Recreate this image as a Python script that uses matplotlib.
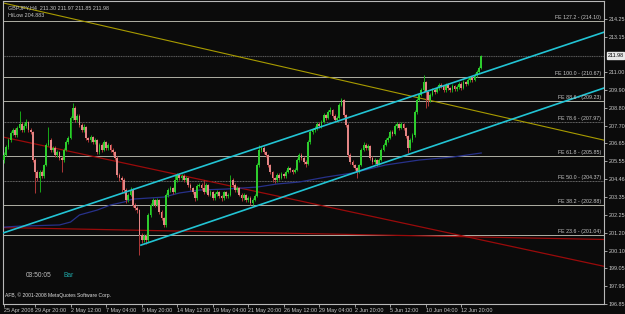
import matplotlib
matplotlib.use("Agg")
import matplotlib.pyplot as plt
import numpy as np

# ---------------- data (GBPJPY, H4) ----------------
first_open = 205.62
closes = [205.93, 206.41, 206.84, 207.27, 207.45, 207.15, 207.57, 207.82, 207.45, 207.69,
          207.94, 207.45, 207.33, 205.62, 204.89, 204.52, 204.89, 204.64, 205.32, 206.54,
          206.84, 206.23, 206.35, 205.93, 206.11, 205.74, 205.62, 206.23, 206.72, 206.96,
          208.18, 208.79, 208.06, 208.30, 207.76, 207.45, 207.63, 206.96, 206.84, 207.02,
          206.72, 206.84, 206.11, 206.54, 206.23, 206.72, 206.35, 206.54, 206.23, 206.11,
          205.74, 204.71, 204.52, 204.40, 203.79, 203.18, 203.49, 203.79, 202.88, 202.69,
          202.57, 201.04, 200.74, 200.98, 200.74, 202.27, 202.88, 203.18, 202.88, 203.18,
          202.45, 202.08, 201.66, 203.49, 203.79, 203.91, 203.67, 204.40, 204.71, 204.52,
          204.64, 204.40, 204.52, 204.10, 203.91, 203.67, 203.30, 204.03, 204.10, 203.91,
          203.67, 204.10, 203.49, 203.67, 203.30, 203.55, 203.67, 203.42, 203.30, 203.67,
          203.42, 203.49, 204.40, 204.10, 203.79, 203.91, 203.49, 203.30, 203.49, 203.18,
          203.30, 203.00, 203.18, 203.42, 205.32, 206.23, 206.35, 206.11, 205.93, 205.32,
          204.89, 204.52, 204.40, 204.71, 204.52, 204.77, 204.64, 204.89, 205.13, 205.01,
          204.89, 205.01, 205.62, 205.93, 205.74, 205.50, 205.38, 206.72, 207.33, 207.45,
          207.57, 207.82, 207.69, 207.94, 208.37, 208.18, 208.55, 208.67, 208.30, 208.06,
          208.18, 208.98, 209.28, 208.37, 207.76, 205.93, 205.50, 205.32, 205.13, 204.89,
          205.32, 206.23, 206.54, 206.35, 206.47, 205.74, 205.50, 205.62, 205.38, 205.62,
          206.23, 206.54, 206.84, 206.96, 207.33, 207.21, 207.69, 207.82, 207.57, 207.82,
          207.57, 207.08, 206.35, 206.84, 207.15, 208.55, 209.28, 209.59, 209.89, 210.38,
          209.77, 209.28, 209.59, 209.89, 209.77, 210.01, 210.20, 210.13, 209.89, 210.20,
          210.01, 209.89, 210.13, 209.95, 210.07, 210.26, 210.01, 210.38, 210.26, 210.50,
          210.62, 210.50, 210.81, 210.99, 211.23, 211.98]
highs = [206.10, 206.55, 206.95, 207.40, 207.60, 207.55, 207.70, 208.61, 207.95, 207.85,
         208.10, 208.00, 207.60, 207.40, 205.75, 205.00, 205.00, 205.00, 205.40, 206.65,
         207.63, 206.95, 206.50, 206.45, 206.25, 206.20, 205.85, 206.35, 206.85, 207.10,
         208.30, 209.10, 208.90, 208.45, 208.40, 207.85, 207.80, 207.70, 207.05, 207.15,
         207.10, 206.95, 206.90, 206.65, 206.65, 206.85, 206.80, 206.65, 206.60, 206.35,
         206.20, 205.85, 204.80, 204.65, 204.50, 203.90, 203.60, 203.95, 203.90, 203.00,
         202.80, 202.65, 201.15, 201.10, 201.10, 202.40, 203.00, 203.30, 203.25, 203.30,
         203.25, 202.55, 202.15, 203.60, 203.90, 204.05, 204.00, 204.71, 204.85, 204.80,
         204.75, 204.75, 204.65, 204.60, 204.20, 204.00, 203.75, 204.15, 204.20, 204.20,
         204.40, 204.20, 204.15, 203.80, 203.75, 203.65, 203.80, 203.75, 203.50, 203.75,
         203.75, 203.60, 204.71, 204.50, 204.20, 204.05, 204.00, 203.60, 203.60, 203.55,
         203.40, 203.40, 203.30, 203.55, 205.45, 206.54, 206.50, 206.45, 206.20, 206.00,
         205.40, 204.95, 204.60, 204.85, 204.80, 204.90, 204.85, 205.00, 205.25, 205.20,
         205.10, 205.15, 205.74, 206.05, 206.05, 205.85, 205.60, 206.85, 207.45, 207.60,
         207.70, 207.95, 207.95, 208.06, 208.50, 208.45, 208.67, 208.85, 208.75, 208.40,
         208.30, 209.10, 209.40, 209.35, 208.45, 207.85, 206.05, 205.60, 205.40, 205.20,
         205.40, 206.35, 206.72, 206.65, 206.60, 206.55, 205.85, 205.75, 205.70, 205.75,
         206.35, 206.65, 206.95, 207.10, 207.45, 207.45, 207.82, 207.94, 207.90, 207.94,
         207.90, 207.65, 207.15, 206.95, 207.27, 208.67, 209.40, 209.72, 210.01, 210.81,
         210.45, 209.85, 209.70, 210.01, 210.01, 210.13, 210.30, 210.30, 210.20, 210.30,
         210.30, 210.10, 210.25, 210.20, 210.20, 210.38, 210.35, 210.50, 210.45, 210.62,
         210.75, 210.70, 210.95, 211.10, 211.35, 212.02]
lows = [205.45, 205.85, 206.30, 206.75, 207.15, 207.00, 207.05, 207.45, 207.35, 207.35,
        207.60, 207.35, 207.20, 205.50, 203.61, 204.35, 203.67, 204.50, 204.55, 205.25,
        206.45, 206.10, 206.10, 205.80, 205.80, 205.60, 204.89, 205.50, 206.15, 206.60,
        206.90, 208.05, 207.95, 207.95, 207.65, 207.30, 207.35, 206.85, 206.70, 206.75,
        206.60, 206.60, 206.00, 206.00, 206.10, 206.15, 206.25, 206.25, 206.10, 205.95,
        205.60, 204.60, 204.35, 203.67, 203.60, 203.00, 203.05, 203.40, 202.75, 202.55,
        202.40, 199.82, 200.55, 200.60, 200.50, 200.65, 202.15, 202.80, 202.75, 202.80,
        202.30, 201.95, 201.53, 201.55, 203.35, 203.65, 203.55, 203.60, 204.30, 204.40,
        204.40, 204.30, 204.30, 204.00, 203.80, 203.55, 203.15, 203.20, 203.95, 203.80,
        203.55, 203.60, 203.40, 203.40, 203.20, 203.20, 203.45, 203.30, 203.15, 203.20,
        203.30, 203.30, 203.40, 204.00, 203.65, 203.70, 203.40, 203.15, 203.20, 203.05,
        203.05, 202.88, 202.90, 203.10, 203.35, 205.20, 206.10, 206.00, 205.80, 205.20,
        204.75, 204.28, 204.22, 204.30, 204.40, 204.45, 204.50, 204.55, 204.80, 204.90,
        204.75, 204.80, 204.95, 205.50, 205.60, 205.40, 205.20, 205.30, 206.60, 207.20,
        207.35, 207.45, 207.55, 207.55, 207.85, 208.05, 208.10, 208.45, 208.20, 207.95,
        207.95, 208.10, 208.90, 208.25, 207.65, 205.80, 205.35, 205.20, 205.00, 204.52,
        204.80, 205.25, 206.15, 206.25, 206.25, 205.65, 205.40, 205.38, 205.25, 205.30,
        205.55, 206.15, 206.45, 206.75, 206.90, 207.10, 207.15, 207.60, 207.45, 207.50,
        207.45, 206.95, 206.07, 206.25, 206.75, 207.05, 208.45, 209.20, 209.50, 209.80,
        208.79, 208.90, 209.15, 209.50, 209.65, 209.70, 209.90, 210.00, 209.75, 209.80,
        209.90, 209.75, 209.80, 209.85, 209.85, 209.95, 209.90, 209.95, 210.15, 210.20,
        210.40, 210.40, 210.45, 210.70, 210.90, 211.15]

x_tick_bars = [0, 14, 30, 46, 62, 78, 94, 110, 126, 142, 158, 174, 190, 206]
x_tick_labels = ["25 Apr 2008", "29 Apr 20:00", "2 May 12:00", "7 May 04:00", "9 May 20:00",
                 "14 May 12:00", "19 May 04:00", "21 May 20:00", "26 May 12:00",
                 "29 May 04:00", "2 Jun 20:00", "5 Jun 12:00", "10 Jun 04:00", "12 Jun 20:00"]
y_tick_values = [214.25, 213.15, 211.00, 209.90, 208.80, 207.70, 206.65, 205.55, 204.46,
                 203.35, 202.25, 201.20, 200.10, 199.05, 197.95, 196.85]

fe_names = ["127.2", "100.0", "88.6", "78.6", "61.8", "50.0", "38.2", "23.6"]
fe_prices = [214.10, 210.67, 209.23, 207.97, 205.85, 204.37, 202.88, 201.04]
fe_bright = [True, True, True, False, True, False, True, True]

bid_price = 211.98

# trendline anchors (bar index, price)
yellow_x, yellow_p = [0, 250], [215.19, 207.46]
cyan_up_x, cyan_up_p = [0, 250], [201.19, 212.50]
cyan_lo_x, cyan_lo_p = [61.7, 250], [200.43, 209.08]
red_down_x, red_down_p = [0, 250], [207.01, 199.73]
red_flat_x, red_flat_p = [0, 250], [201.50, 200.83]

# moving average (read points)
ma_x = [0, 7, 25, 30, 34, 42, 48, 54, 58, 72, 79, 88, 100, 114, 123, 133, 145, 157, 172, 187, 202, 215]
ma_p = [201.53, 201.59, 201.66, 201.84, 202.27, 202.57, 202.88, 203.06, 203.24, 203.36, 203.61,
        203.79, 203.85, 203.97, 204.16, 204.28, 204.58, 204.83, 205.32, 205.62, 205.80, 206.05]

# ---------------- drawing ----------------
BG = "#0b0b0b"
FG = "#c8c8c8"
FONT = "Liberation Sans"

fig = plt.figure(figsize=(6.25, 3.14), dpi=100, facecolor=BG)
ax = fig.add_axes([3 / 625, 1 - 304 / 314, 601 / 625, 303 / 314])
ax.set_facecolor(BG)

XMAX = 270.3
ax.set_xlim(-0.45, XMAX)
ax.set_ylim(196.84, 215.32)

# Fibonacci expansion levels
for name, p, bright in zip(fe_names, fe_prices, fe_bright):
    ax.axhline(p, color="#b0b0a4" if bright else "#6a6a6a", lw=0.7,
               ls="-" if bright else (0, (1, 0.6)), zorder=1)
    ax.text(XMAX - 1.2, p + 0.06, f"FE {name} - ({p:.2f})", ha="right", va="bottom",
            fontsize=3.8, color=FG, family=FONT, zorder=6)

# bid line
ax.axhline(bid_price, color="#5a5a5a", lw=0.8, ls=(0, (1, 0.6)), zorder=1)

# trend lines
ax.axline((yellow_x[0], yellow_p[0]), (yellow_x[1], yellow_p[1]), color="#a89b00", lw=0.8, zorder=2)
ax.axline((red_down_x[0], red_down_p[0]), (red_down_x[1], red_down_p[1]), color="#9a0a0a", lw=0.9, zorder=2)
ax.axline((red_flat_x[0], red_flat_p[0]), (red_flat_x[1], red_flat_p[1]), color="#9a0a0a", lw=0.9, zorder=2)
ax.plot(ma_x, ma_p, color="#27318a", lw=0.9, zorder=2)

# candles
opens = [first_open] + closes[:-1]
idx = np.arange(len(closes))
o = np.array(opens); c = np.array(closes); h = np.array(highs); l = np.array(lows)
up = c >= o
wick_col = np.where(up, "#18a818", "#b03838")
body_col = np.where(up, "#2ecc2e", "#e38585")
ax.vlines(idx, l, h, colors=wick_col, lw=0.7, zorder=3)
body_h = np.maximum(np.abs(c - o), 0.03)
ax.bar(idx, body_h, bottom=np.minimum(o, c), width=0.8, color=body_col, linewidth=0, zorder=4)

# channel lines (on top of candles)
ax.axline((cyan_up_x[0], cyan_up_p[0]), (cyan_up_x[1], cyan_up_p[1]), color="#22c4d4", lw=1.2, zorder=5)
slope_lo = (cyan_lo_p[1] - cyan_lo_p[0]) / (cyan_lo_x[1] - cyan_lo_x[0])
ax.plot([cyan_lo_x[0], XMAX + 5], [cyan_lo_p[0], cyan_lo_p[0] + slope_lo * (XMAX + 5 - cyan_lo_x[0])],
        color="#22c4d4", lw=1.2, zorder=5)

# axes styling
for s in ax.spines.values():
    s.set_color("#b8b8b8")
    s.set_linewidth(0.8)
ax.yaxis.tick_right()
ax.set_yticks(y_tick_values)
ax.set_yticklabels([f"{v:.2f}" for v in y_tick_values])
ax.set_xticks(x_tick_bars)
ax.set_xticklabels(x_tick_labels)
ax.tick_params(axis="both", colors="#b8b8b8", labelcolor=FG, length=2, width=0.6, labelsize=3.9, pad=1.2)
for t in ax.get_xticklabels() + ax.get_yticklabels():
    t.set_family(FONT)
for t in ax.get_xticklabels():
    t.set_ha("left")

# current price box
ax.annotate(f"{bid_price:.2f}", xy=(1.0, bid_price), xycoords=("axes fraction", "data"),
            xytext=(2.5, 0), textcoords="offset points", ha="left", va="center",
            fontsize=3.9, family=FONT, color="#000000",
            bbox=dict(boxstyle="square,pad=0.15", fc="#e8e8e8", ec="#e8e8e8"))

# overlay texts
ax.text(0.008, 0.985, "GBPJPY,H4  211.30 211.97 211.85 211.98", transform=ax.transAxes,
        fontsize=3.9, family=FONT, color=FG, va="top", ha="left")
ax.text(0.008, 0.962, "HiLow 204.883", transform=ax.transAxes,
        fontsize=3.9, family=FONT, color=FG, va="top", ha="left")
ax.text(0.038, 0.095, "03:50:05", transform=ax.transAxes,
        fontsize=4.8, family=FONT, color="#bdbdbd", va="center", ha="left")
ax.text(0.1, 0.095, "Bar", transform=ax.transAxes,
        fontsize=4.8, family=FONT, color="#1fa6a6", va="center", ha="left")
ax.text(0.003, 0.02, "AFB, \u00a9 2001-2008 MetaQuotes Software Corp.", transform=ax.transAxes,
        fontsize=3.6, family=FONT, color="#e0e0e0", va="bottom", ha="left")

fig.savefig("out.png", dpi=100, facecolor=BG)
